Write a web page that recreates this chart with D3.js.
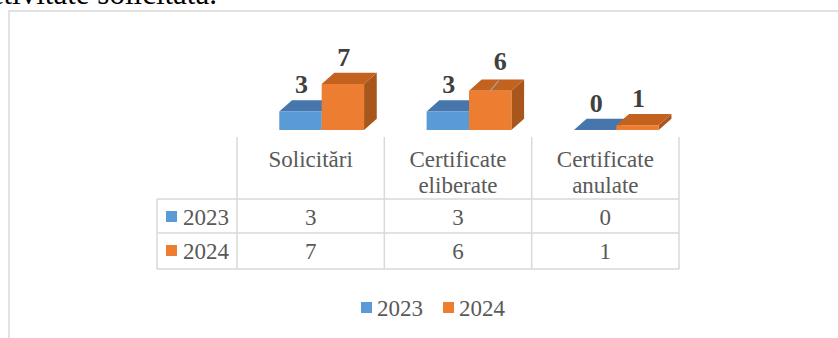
<!DOCTYPE html>
<html>
<head>
<meta charset="utf-8">
<script src="https://cdn.jsdelivr.net/npm/d3@7/dist/d3.min.js"></script>
<style>
  html, body { margin: 0; padding: 0; background: #ffffff; }
  svg { display: block; }
</style>
</head>
<body>
<svg id="chart" width="838" height="338" font-family="'Liberation Serif', 'Times New Roman', Tinos, serif"></svg>
<script>
// Categories and series
const categories = ["Solicitări", "Certificate eliberate", "Certificate anulate"];
const years = ["2023", "2024"];
const values2023 = [3, 3, 0];
const values2024 = [7, 6, 1];
const seriesColors = ["#5b9bd5", "#ed7d31"];
const topColors = ["#4676ab", "#c3611f"];
const sideColors = ["#3d6793", "#a9561d"];

const series = [values2023, values2024];

const svg = d3.select("#chart");
const W = 838, H = 338;
const serif = "'Liberation Serif', 'Times New Roman', Tinos, serif";

const textGrey = "#595959";
const gridGrey = "#d9d9d9";

// Paragraph text above the chart frame
svg.append("text")
  .attr("x", 217).attr("y", 4)
  .attr("text-anchor", "end")
  .attr("font-family", serif)
  .attr("font-size", 31)
  .attr("fill", "#000")
  .text("activitate solicitată.");

// Chart frame
svg.append("path")
  .attr("d", `M9,${H} L9,11 L${W},11`)
  .attr("fill", "none")
  .attr("stroke", gridGrey)
  .attr("stroke-width", 1.5);

// Scales
const tableLeft = 157, colLeft = 237, colRight = 679;
const x = d3.scaleBand().domain(categories).range([colLeft, colRight]);
const barW = 42.4;
const pairShift = 11;
const xs = d3.scaleBand().domain(years).range([0, barW * 2]);
const floorY = 130;
const y = d3.scaleLinear().domain([0.3, 7]).range([floorY, 84]).clamp(true);
const depthX = 12.7, depthY = -11.3;

// 3D bars
const bars = svg.append("g");
categories.forEach((cat, ci) => {
  const groupStart = x(cat) + x.bandwidth() / 2 + pairShift - barW;
  years.forEach((yr, si) => {
    const v = series[si][ci];
    const x0 = groupStart + xs(yr);
    const x1 = x0 + barW;
    const yt = y(v);
    const g = bars.append("g");
    // side face
    g.append("polygon")
      .attr("points", [[x1, yt], [x1 + depthX, yt + depthY], [x1 + depthX, floorY + depthY], [x1, floorY]].join(" "))
      .attr("fill", sideColors[si]);
    // top face
    g.append("polygon")
      .attr("points", [[x0, yt], [x0 + depthX, yt + depthY], [x1 + depthX, yt + depthY], [x1, yt]].join(" "))
      .attr("fill", topColors[si]);
    // front face
    if (floorY - yt > 0) {
      g.append("rect")
        .attr("x", x0).attr("y", yt)
        .attr("width", barW).attr("height", floorY - yt)
        .attr("fill", seriesColors[si]);
    }
  });
});

// Data labels above each bar
const labelNudge = { "2024|Certificate eliberate": [9, -3] };
const labels = svg.append("g");
categories.forEach((cat, ci) => {
  const groupStart = x(cat) + x.bandwidth() / 2 + pairShift - barW;
  years.forEach((yr, si) => {
    const v = series[si][ci];
    const cx = groupStart + xs(yr) + barW / 2;
    const yt = y(v);
    const nudge = labelNudge[yr + "|" + cat] || [0, 0];
    const lx = cx + 1 + nudge[0];
    const ly = yt + depthY - 7 + nudge[1];
    if (nudge[0] !== 0 || nudge[1] !== 0) {
      labels.append("line")
        .attr("x1", lx - 1.5).attr("y1", ly + 11)
        .attr("x2", cx).attr("y2", yt)
        .attr("stroke", "#a6a6a6").attr("stroke-width", 1.2);
    }
    labels.append("text")
      .attr("x", lx).attr("y", ly)
      .attr("text-anchor", "middle")
      .attr("font-family", serif)
      .attr("font-size", 26)
      .attr("font-weight", "bold")
      .attr("fill", "#404040")
      .text(v);
  });
});

// Data table
const tbl = svg.append("g");
const headTop = 137, row1Top = 199, row2Top = 233, tableBottom = 269;
const rowTops = [row1Top, row2Top];

tbl.selectAll("line.h")
  .data([row1Top, row2Top, tableBottom])
  .join("line")
  .attr("x1", tableLeft).attr("x2", colRight)
  .attr("y1", d => d).attr("y2", d => d)
  .attr("stroke", gridGrey).attr("stroke-width", 1.5);

const colEdges = categories.map(c => x(c)).concat([colRight]);
tbl.selectAll("line.v")
  .data(colEdges)
  .join("line")
  .attr("x1", d => d).attr("x2", d => d)
  .attr("y1", headTop).attr("y2", tableBottom)
  .attr("stroke", gridGrey).attr("stroke-width", 1.5);

tbl.append("line")
  .attr("x1", tableLeft).attr("x2", tableLeft)
  .attr("y1", row1Top).attr("y2", tableBottom)
  .attr("stroke", gridGrey).attr("stroke-width", 1.5);

// Column headers
categories.forEach(cat => {
  const words = cat.split(" ");
  const t = tbl.append("text")
    .attr("x", x(cat) + x.bandwidth() / 2)
    .attr("y", 167)
    .attr("text-anchor", "middle")
    .attr("font-family", serif)
    .attr("font-size", 23)
    .attr("fill", textGrey);
  words.forEach((w, i) => {
    t.append("tspan")
      .attr("x", x(cat) + x.bandwidth() / 2)
      .attr("dy", i === 0 ? 0 : 25.5)
      .text(w);
  });
});

// Rows: legend key + values
years.forEach((yr, si) => {
  const top = rowTops[si];
  tbl.append("rect")
    .attr("x", 166).attr("y", top + 12)
    .attr("width", 11).attr("height", 11)
    .attr("fill", seriesColors[si]);
  tbl.append("text")
    .attr("x", 183).attr("y", top + 25.5)
    .attr("font-family", serif)
    .attr("font-size", 23)
    .attr("fill", textGrey)
    .text(yr);
  categories.forEach((cat, ci) => {
    tbl.append("text")
      .attr("x", x(cat) + x.bandwidth() / 2)
      .attr("y", top + 25.5)
      .attr("text-anchor", "middle")
      .attr("font-family", serif)
      .attr("font-size", 23)
      .attr("fill", textGrey)
      .text(series[si][ci]);
  });
});

// Legend
const legendX = [361, 443];
const legend = svg.append("g");
years.forEach((yr, si) => {
  legend.append("rect")
    .attr("x", legendX[si]).attr("y", 302)
    .attr("width", 11).attr("height", 11)
    .attr("fill", seriesColors[si]);
  legend.append("text")
    .attr("x", legendX[si] + 16).attr("y", 316)
    .attr("font-family", serif)
    .attr("font-size", 23)
    .attr("fill", textGrey)
    .text(yr);
});
</script>
</body>
</html>
